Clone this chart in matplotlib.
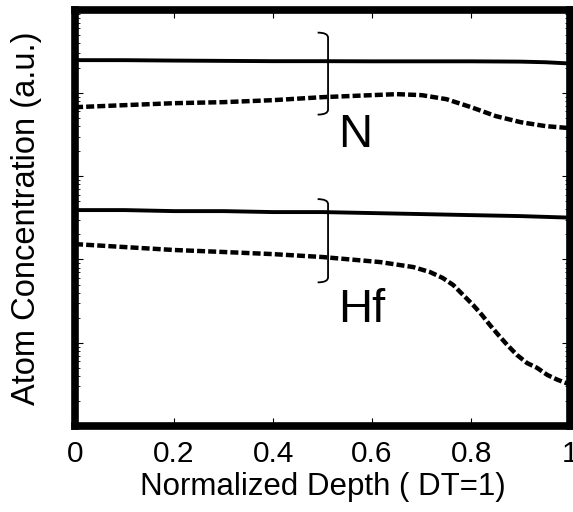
import numpy as np
import matplotlib
matplotlib.use("Agg")
import matplotlib.pyplot as plt
from matplotlib.path import Path
from matplotlib.patches import PathPatch
from matplotlib.ticker import LogLocator, NullFormatter

plt.rcParams['font.family'] = ['Liberation Sans', 'DejaVu Sans']

# depth profiles (log scale, arbitrary units)
x_n_solid = [0.0, 0.1, 0.2, 0.3, 0.4, 0.5, 0.6, 0.7, 0.8, 0.9, 0.95, 1.0]
n_solid = [24800, 24780, 24500, 24300, 24100, 24100, 24000, 24000, 24000, 23800, 23400, 22600]

x_n_dash = [0.0, 0.1, 0.2, 0.3, 0.4, 0.5, 0.6, 0.65, 0.7, 0.75, 0.8, 0.85, 0.9, 0.95, 1.0]
n_dash = [6750, 7140, 7540, 7760, 8200, 8910, 9420, 9680, 9420, 8430, 6750, 5270, 4460, 4000, 3780]

x_hf_solid = [0.0, 0.1, 0.2, 0.3, 0.4, 0.5, 0.6, 0.7, 0.8, 0.9, 1.0]
hf_solid = [392, 392, 381, 381, 371, 371, 361, 351, 341, 332, 318]

x_hf_dash = [0.0, 0.1, 0.2, 0.3, 0.4, 0.5, 0.616, 0.683, 0.717, 0.743, 0.764, 0.784,
             0.804, 0.822, 0.838, 0.855, 0.873, 0.893, 0.913, 0.933, 0.954, 0.974, 1.0]
hf_dash = [153, 141, 130, 123, 116, 107, 93.1, 81.1, 70.6, 59.8, 49.3, 37.4,
           28.4, 21.5, 16.3, 12.4, 9.4, 7.1, 5.7, 5.0, 4.1, 3.6, 3.15]

fig = plt.figure(figsize=(5.73, 5.12), dpi=100)
ax = fig.add_axes([0.131, 0.168, 0.864, 0.813])

ax.plot(x_n_solid, n_solid, color='black', lw=2.8)
ax.plot(x_hf_solid, hf_solid, color='black', lw=2.8)
ax.plot(x_n_dash, n_dash, color='black', lw=3.2, dashes=(1.8, 0.7))
ax.plot(x_hf_dash, hf_dash, color='black', lw=3.2, dashes=(1.8, 0.7))

ax.set_yscale('log')
ax.set_xlim(0, 1)
ax.set_ylim(1, 1e5)
ax.set_xticks([0, 0.2, 0.4, 0.6, 0.8, 1])
ax.set_xticklabels(['0', '0.2', '0.4', '0.6', '0.8', '1'])
ax.yaxis.set_major_locator(LogLocator(base=10, numticks=10))
ax.yaxis.set_minor_locator(LogLocator(base=10, subs=np.arange(2, 10), numticks=20))
ax.yaxis.set_major_formatter(NullFormatter())
ax.yaxis.set_minor_formatter(NullFormatter())

ax.tick_params(axis='both', which='major', direction='in', length=6, width=0.8,
               top=True, right=True, labelsize=21.5, pad=10)
ax.tick_params(axis='y', which='minor', direction='in', length=3.5, width=0.6,
               left=True, right=True)
for s in ax.spines.values():
    s.set_linewidth(5.5)

ax.set_xlabel('Normalized Depth ( DT=1)', fontsize=22.5, labelpad=3)
ax.set_ylabel('Atom Concentration (a.u.)', fontsize=23.5, labelpad=14)


# right-hand brackets grouping each pair of curves (axes coordinates)
def bracket(y_top, y_bot, x0=0.49, x1=0.511, r=0.012):
    verts = [(x0, y_top), (x1, y_top), (x1, y_top - r),
             (x1, y_bot + r),
             (x1, y_bot), (x0, y_bot)]
    codes = [Path.MOVETO, Path.CURVE3, Path.CURVE3,
             Path.LINETO, Path.CURVE3, Path.CURVE3]
    ax.add_patch(PathPatch(Path(verts, codes), fill=False, lw=1.3,
                           transform=ax.transAxes, clip_on=False))


bracket(0.945, 0.748)
bracket(0.545, 0.345)

ax.text(0.531, 0.70, 'N', transform=ax.transAxes, fontsize=34, ha='left', va='center')
ax.text(0.531, 0.279, 'Hf', transform=ax.transAxes, fontsize=34, ha='left', va='center')

fig.savefig('out.png', dpi=100)
